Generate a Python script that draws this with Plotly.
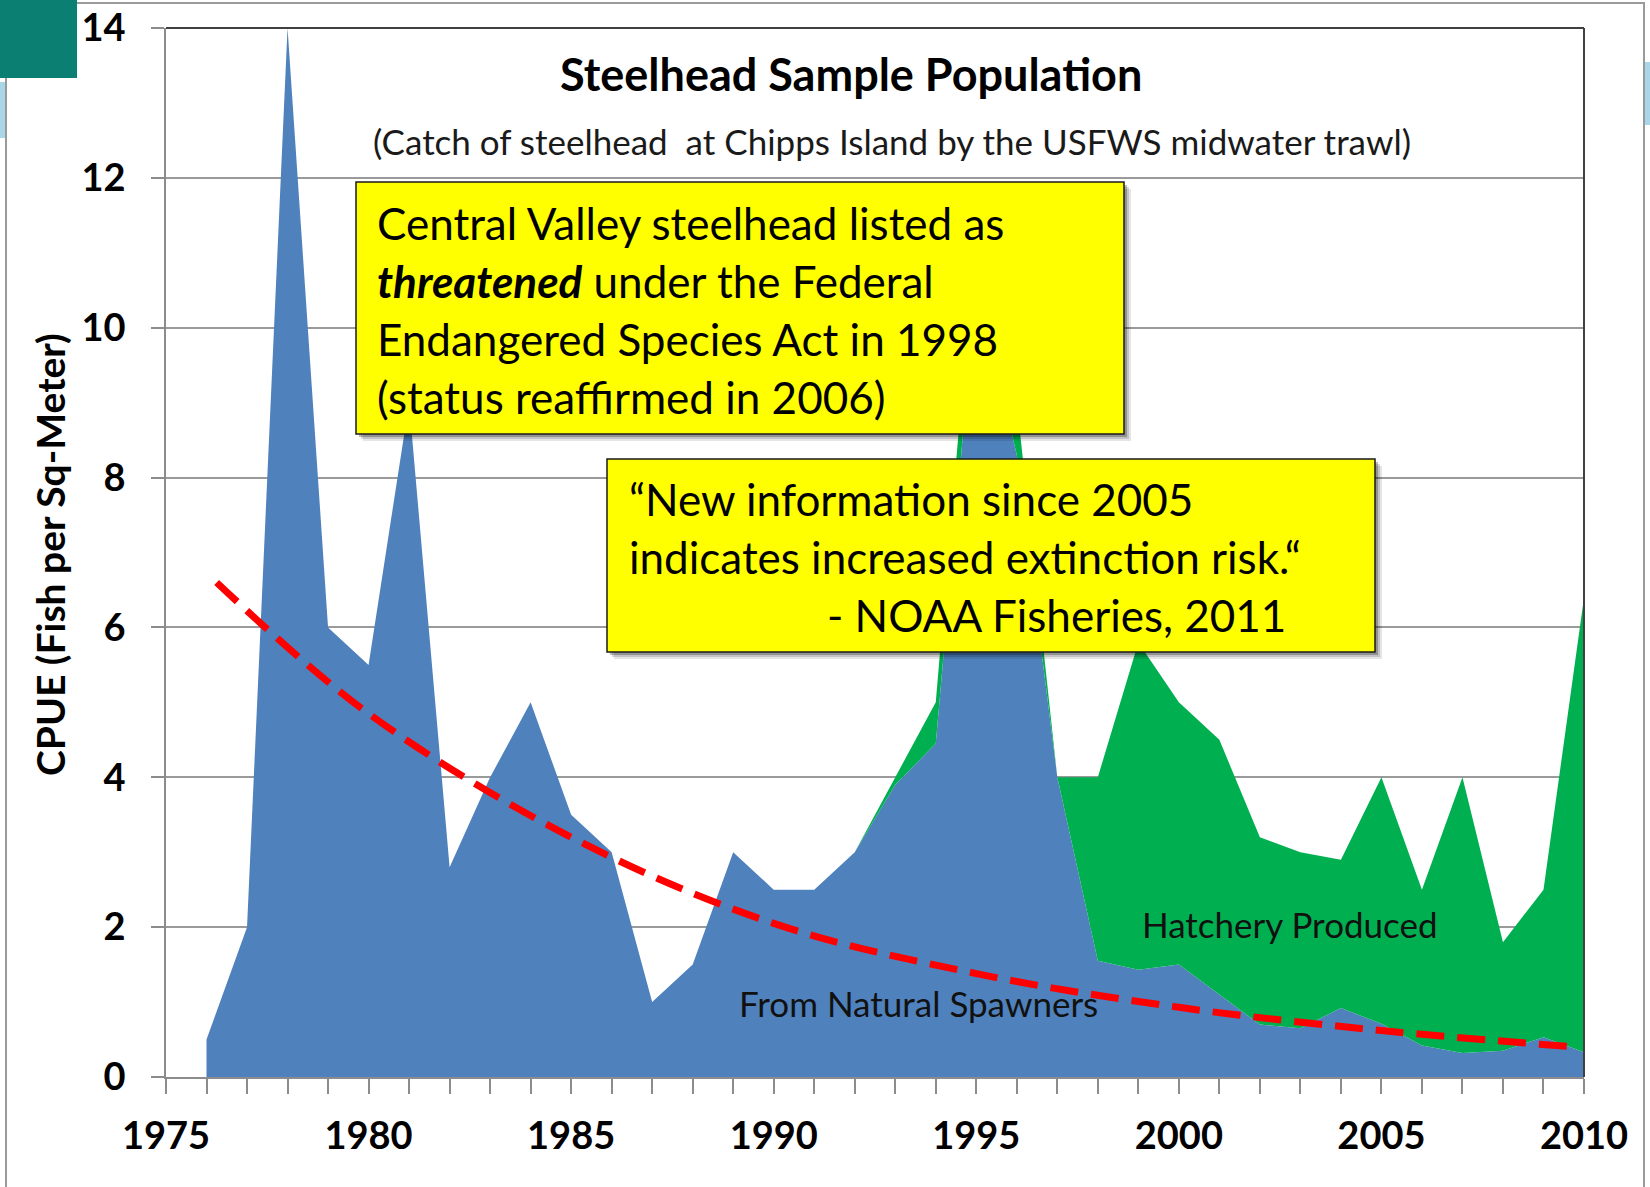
import plotly.graph_objects as go

# ---------------- data ----------------
years = list(range(1976, 2011))
natural = [0.5, 2.0, 14.0, 6.0, 5.5, 9.0, 2.8, 4.0, 5.0, 3.5,
           3.0, 1.0, 1.5, 3.0, 2.5, 2.5, 3.0, 3.9, 4.45, 10.6,
           8.3, 4.0, 1.55, 1.43, 1.5, 1.1, 0.7, 0.65, 0.92, 0.71,
           0.42, 0.32, 0.35, 0.53, 0.33]
hatchery = [0, 0, 0, 0, 0, 0, 0, 0, 0, 0,
            0, 0, 0, 0, 0, 0, 0, 0.1, 0.55, 0.8,
            0.7, 0, 2.45, 4.37, 3.5, 3.4, 2.5, 2.35, 1.98, 3.29,
            2.08, 3.68, 1.45, 1.97, 6.07]
trend_years = [1976.25, 1980, 1985, 1990, 1995, 2000, 2005, 2009.8]
trend_vals = [6.6, 4.85, 3.2, 2.05, 1.38, 0.93, 0.62, 0.4]

x_tick_vals = [1975, 1980, 1985, 1990, 1995, 2000, 2005, 2010]
x_tick_text = ["1975", "1980", "1985", "1990", "1995", "2000", "2005", "2010"]
y_tick_vals = [0, 2, 4, 6, 8, 10, 12, 14]

title_text = "<b>Steelhead Sample Population</b>"
subtitle_text = "(Catch of steelhead  at Chipps Island by the USFWS midwater trawl)"
box1_lines = ["Central Valley steelhead listed as",
              "<b><i>threatened</i></b> under the Federal",
              "Endangered Species Act in 1998",
              "(status reaffirmed in 2006)"]
box2_lines = ["\u201cNew information since 2005",
              "indicates increased extinction risk.\u201c",
              "- NOAA Fisheries, 2011"]

# ---------------- layout helpers (page pixel -> paper) ----------------
W, H = 1650, 1187
PLOT_L, PLOT_R, PLOT_T, PLOT_B = 166, 1584, 28, 1077   # target page pixels
ML, MT = PLOT_L, PLOT_T
MR, MB = W - PLOT_R, H - PLOT_B
PW = PLOT_R - PLOT_L
PH = PLOT_B - PLOT_T


def X(px):
    return (px - PLOT_L) / PW


def Y(py):
    return (PLOT_B - py) / PH


FONT = "Lato"
BLUE = "#4F81BD"
GREEN = "#00B050"

fig = go.Figure()
fig.add_trace(go.Scatter(x=years, y=natural, stackgroup="s", mode="lines",
                         line=dict(width=0, color=BLUE), fillcolor=BLUE,
                         name="From Natural Spawners", hoverinfo="x+y"))
fig.add_trace(go.Scatter(x=years, y=hatchery, stackgroup="s", mode="lines",
                         line=dict(width=0, color=GREEN), fillcolor=GREEN,
                         name="Hatchery Produced", hoverinfo="x+y"))
fig.add_trace(go.Scatter(x=trend_years, y=trend_vals, mode="lines",
                         line=dict(color="#FF0000", width=7, dash="28px,13px",
                                   shape="spline", smoothing=1.0),
                         name="Trend", hoverinfo="skip"))

shapes = []
# outer frame
shapes.append(dict(type="rect", xref="paper", yref="paper",
                   x0=X(6), x1=X(1644), y0=Y(1215), y1=Y(3),
                   line=dict(color="#9A9A9A", width=2), fillcolor="rgba(0,0,0,0)",
                   layer="below"))
# dark top/right border of plot area
shapes.append(dict(type="line", xref="paper", yref="paper", x0=0, x1=1, y0=1, y1=1,
                   line=dict(color="#404040", width=2), layer="above"))
shapes.append(dict(type="line", xref="paper", yref="paper", x0=1, x1=1, y0=0, y1=1,
                   line=dict(color="#404040", width=2), layer="above"))
# teal corner and slide-background slivers
shapes.append(dict(type="rect", xref="paper", yref="paper",
                   x0=X(0), x1=X(77), y0=Y(78), y1=Y(0),
                   line=dict(width=0), fillcolor="#0B7F72", layer="above"))
shapes.append(dict(type="rect", xref="paper", yref="paper",
                   x0=X(0), x1=X(5), y0=Y(138), y1=Y(82),
                   line=dict(width=0), fillcolor="#A9D6E8", layer="above"))
shapes.append(dict(type="rect", xref="paper", yref="paper",
                   x0=X(1645), x1=X(1650), y0=Y(125), y1=Y(62),
                   line=dict(width=0), fillcolor="#A9D6E8", layer="above"))


def add_box(x0, y0, x1, y1):
    for off, op in [(7, 0.10), (5, 0.15), (3, 0.25)]:
        shapes.append(dict(type="rect", xref="paper", yref="paper",
                           x0=X(x0 + off), x1=X(x1 + off), y0=Y(y1 + off), y1=Y(y0 + off),
                           line=dict(width=0), fillcolor=f"rgba(0,0,0,{op})", layer="above"))
    shapes.append(dict(type="rect", xref="paper", yref="paper",
                       x0=X(x0), x1=X(x1), y0=Y(y1), y1=Y(y0),
                       line=dict(color="#1a1a1a", width=1.5), fillcolor="#FFFF00",
                       layer="above"))


add_box(356, 182, 1124, 434)
add_box(607, 459, 1375, 652)

annotations = []


def txt(text, px, py, size, xanchor="left", angle=0, color="#000000"):
    annotations.append(dict(text=text, xref="paper", yref="paper", x=X(px), y=Y(py),
                            xanchor=xanchor, yanchor="middle", showarrow=False,
                            textangle=angle,
                            font=dict(family=FONT, size=size, color=color)))


txt(title_text, 851, 74, 45, xanchor="center")
txt(subtitle_text, 892, 141, 35, xanchor="center", color="#1a1a1a")

for i, line in enumerate(box1_lines):
    txt(line, 375, 223 + i * 58, 44)
txt(box2_lines[0], 627, 499, 44)
txt(box2_lines[1], 627, 557, 44)
txt(box2_lines[2], 825, 615, 44)

txt("Hatchery Produced", 1140, 924, 35, color="#111111")
txt("From Natural Spawners", 737, 1003, 35, color="#111111")

txt("<b>CPUE (Fish per Sq-Meter)</b>", 50, 555, 39, xanchor="center", angle=-90)

fig.update_layout(
    width=W, height=H,
    margin=dict(l=ML, r=MR, t=MT, b=MB, autoexpand=False),
    paper_bgcolor="white", plot_bgcolor="white",
    showlegend=False,
    font=dict(family=FONT, color="#000000"),
    shapes=shapes, annotations=annotations,
    xaxis=dict(range=[1975, 2010], tickvals=x_tick_vals, ticktext=x_tick_text,
               ticks="outside", ticklen=15, tickwidth=1.5, tickcolor="#8C8C8C",
               minor=dict(dtick=1, tick0=1975, ticks="outside", ticklen=15,
                          tickwidth=1.5, tickcolor="#8C8C8C", showgrid=False),
               showline=True, linecolor="#8C8C8C", linewidth=1.5,
               showgrid=False, zeroline=False, automargin=False,
               ticklabeloverflow="allow",
               tickfont=dict(family=FONT, size=38, color="#000000", weight="bold"),
               ticklabelstandoff=10),
    yaxis=dict(range=[0, 14], tickvals=y_tick_vals,
               ticks="outside", ticklen=13, tickwidth=1.5, tickcolor="#8C8C8C",
               showline=True, linecolor="#8C8C8C", linewidth=1.5,
               showgrid=True, gridcolor="#9A9A9A", gridwidth=1.5, zeroline=False,
               automargin=False, ticklabeloverflow="allow",
               tickfont=dict(family=FONT, size=38, color="#000000", weight="bold"),
               ticklabelstandoff=18),
)

fig.write_html("out.html", config={"displayModeBar": False},
               post_script="document.body.style.margin='0';document.body.style.overflow='hidden';")
